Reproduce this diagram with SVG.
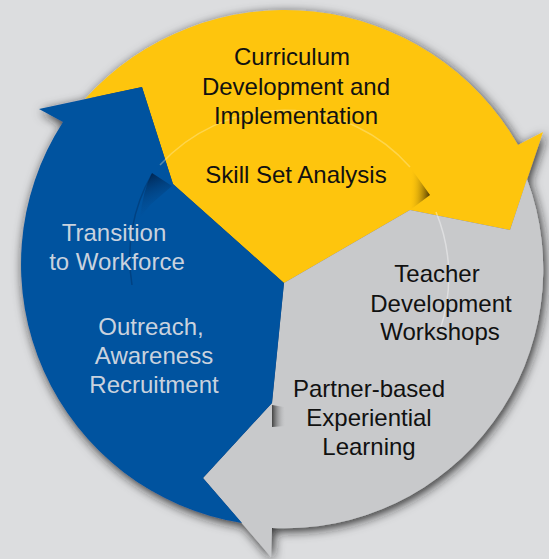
<svg xmlns="http://www.w3.org/2000/svg" width="549" height="559" viewBox="0 0 549 559">
<defs>
<style>
.t{font-family:"Liberation Sans",Arial,sans-serif;font-size:24px;text-anchor:middle}
.dk{fill:#111111}
.lt{fill:#c9d2de}
.faint{fill:none;stroke-width:1.5}
</style>
<filter id="sh" x="-10%" y="-10%" width="120%" height="120%">
<feGaussianBlur in="SourceAlpha" stdDeviation="5.5"/>
<feOffset dx="2" dy="3" result="b"/>
<feFlood flood-color="#1a1a1a" flood-opacity="0.9"/>
<feComposite in2="b" operator="in"/>
<feMerge><feMergeNode/><feMergeNode in="SourceGraphic"/></feMerge>
</filter>
<linearGradient id="gBlue" x1="0" y1="0" x2="0.3" y2="1">
<stop offset="0" stop-color="#001a3d" stop-opacity="0.95"/>
<stop offset="1" stop-color="#04539f" stop-opacity="0"/>
</linearGradient>
<linearGradient id="gYel" x1="1" y1="0.5" x2="0" y2="0.4">
<stop offset="0" stop-color="#4a3500" stop-opacity="0.95"/>
<stop offset="1" stop-color="#fec50e" stop-opacity="0"/>
</linearGradient>
<linearGradient id="gGry" x1="0" y1="0" x2="1" y2="0">
<stop offset="0" stop-color="#333333" stop-opacity="0.9"/>
<stop offset="1" stop-color="#c8c9cb" stop-opacity="0"/>
</linearGradient>
</defs>
<rect width="549" height="559" fill="#dcdddf"/>
<g filter="url(#sh)">
<g id="node-curriculum">
<path d="M284,283 L173,184 L142,87 L85,99 A269,269 0 0 1 518,145 L543,132 L510,230 L410,210 Z" fill="#fec50e"/>
</g>
<g id="node-teacher">
<path d="M284,283 L410,210 L510,230 L527,179 A259,259 0 0 1 272,528 L271,557 L203,478 L272,403 Z" fill="#c8c9cb"/>
</g>
<g id="node-transition">
<path d="M284,283 L272,403 L203,478 L242,523 A262,262 0 0 1 63,122 L39,109 L142,87 L173,184 Z" fill="#04539f"/>
</g>
</g>
<g id="effects">
<path class="faint" d="M160,165 A168,168 0 0 1 410,167" stroke="#fff3c0" stroke-opacity="0.35"/>
<path class="faint" d="M152,174 A168,168 0 0 0 132,285" stroke="#00224d" stroke-opacity="0.35"/>
<path class="faint" d="M436,212 A168,168 0 0 1 440,330" stroke="#ffffff" stroke-opacity="0.4"/>
<path d="M152,173 L172,186 L150,205 L140,218 Q143,190 152,173 Z" fill="url(#gBlue)"/>
<path d="M410,167 L430,195 L410,210 Q412,188 410,167 Z" fill="url(#gYel)"/>
<path d="M272,405 L284,407 L286,426 L272,427 Z" fill="url(#gGry)"/>
</g>
<g id="connectors"/>
<g id="labels">
<g id="label-curriculum">
<text class="t dk" x="292" y="65">Curriculum</text>
<text class="t dk" x="296" y="95">Development and</text>
<text class="t dk" x="296" y="124">Implementation</text>
<text class="t dk" x="296" y="183">Skill Set Analysis</text>
</g>
<g id="label-teacher">
<text class="t dk" x="437" y="282">Teacher</text>
<text class="t dk" x="441" y="312">Development</text>
<text class="t dk" x="440" y="340">Workshops</text>
<text class="t dk" x="369" y="397">Partner-based</text>
<text class="t dk" x="369" y="426">Experiential</text>
<text class="t dk" x="369" y="455">Learning</text>
</g>
<g id="label-transition">
<text class="t lt" x="114" y="241">Transition</text>
<text class="t lt" x="117" y="270">to Workforce</text>
<text class="t lt" x="151" y="335">Outreach,</text>
<text class="t lt" x="154" y="364">Awareness</text>
<text class="t lt" x="154" y="393">Recruitment</text>
</g>
</g>
</svg>
